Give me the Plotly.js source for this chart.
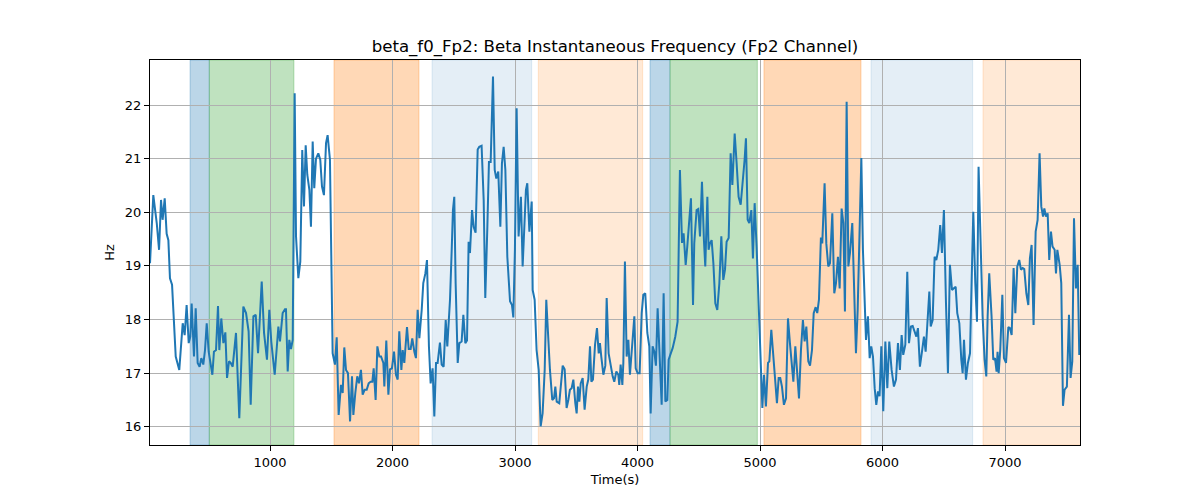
<!DOCTYPE html>
<html>
<head>
<meta charset="utf-8">
<script src="https://cdn.plot.ly/plotly-3.0.1.min.js"></script>
<style>
  html, body { margin: 0; padding: 0; background: #fff; }
  #chart { width: 1200px; height: 500px; }
</style>
</head>
<body>
<div id="chart"></div>
<script>
// time stamps (s) and beta instantaneous frequency (Hz)
const timeSec = [
  20,47,75,94,110,123,140,156,170,183,200,230,259,287,303,319,336,349,360,379,
  393,409,425,439,455,469,483,499,529,542,559,575,586,602,619,635,649,665,679,695,
  722,749,782,804,825,842,864,883,902,932,951,975,994,1010,1038,1068,1081,1103,1122,1130,
  1144,1157,1171,1185,1201,1212,1231,1247,1263,1277,1291,1304,1321,1334,1348,1361,1375,1394,1410,1424,
  1440,1457,1470,1489,
  1511,1530,1544,1560,1579,1593,1606,1620,1636,1653,1669,1680,1696,1712,1726,1742,1756,1772,1789,1805,
  1821,1835,1846,1862,1876,1892,1906,1925,1933,1949,1966,1979,1995,2012,2028,2042,2055,2072,2083,2096,
  2118,2132,2148,2161,2178,2191,2205,2219,2238,2251,2268,2281,2297,2311,2327,2341,2355,2368,2387,2401,
  2417,2434,2447,2469,2483,2493,2504,2515,2532,2545,2564,2578,2594,2608,2621,2632,2649,2662,2678,2695,
  2708,2727,2744,2757,2774,2787,2801,2820,2834,2847,2863,2880,2893,2907,2921,2937,2950,2959,2975,2986,
  2999,3013,3029,
  3048,3062,3078,3089,3100,3117,3136,3144,3160,3176,3193,3209,3225,3242,3255,3272,3285,3304,3318,3329,
  3340,3361,3375,3389,3405,3421,3435,3448,3462,3476,3492,3503,3514,3525,3536,3552,3568,3585,3598,3612,
  3623,3636,3653,3669,3683,3693,3704,3721,3737,3748,3764,3780,3797,3810,3827,3843,3851,3862,3876,3884,
  3897,3911,3925,3938,3957,3974,3985,4001,4017,4034,4047,4063,4080,4096,4107,4123,4137,4150,4164,4183,
  4197,4213,4227,4243,4254,4270,4287,4308,4327,4346,4363,4376,4393,4406,4423,4436,4453,4463,4482,4496,
  4510,4526,4542,4553,4570,4580,4591,
  4605,4619,4635,4651,4668,4684,4700,4714,4727,4744,4760,4774,4793,4809,4825,4842,4858,4874,4885,4899,
  4912,4929,4942,4956,4972,4989,5005,5019,5032,5048,5065,5076,5092,5106,5119,5138,5152,5165,5179,5195,
  5212,5228,5244,5258,5272,5288,5304,5318,5334,5350,5364,5378,5394,5408,5424,5438,5454,5467,5481,5497,
  5508,5527,5541,5557,5571,5590,5606,5620,5636,5650,5666,5680,5693,5707,5721,5734,5753,5767,5783,5797,
  5813,5827,5840,5851,5865,5881,5895,5908,5922,5936,5949,5963,5976,5990,6006,6023,6039,6055,
  6074,6093,6110,6126,6142,6156,6169,6186,6202,6216,6232,6246,6262,6276,6289,6305,6322,6338,6352,6368,
  6382,6393,6409,6425,6439,6455,6471,6485,6501,6518,6534,6550,6567,6580,6597,6610,6627,6643,6654,6665,
  6681,6697,6714,6727,6741,6757,6771,6784,6801,6817,6833,6847,6858,6871,6890,6904,6918,6931,6939,6948,
  6961,6978,6991,7008,7027,7040,7054,7070,7084,7100,7116,7130,7144,7157,7174,7190,7203,7217,7233,7250,
  7266,7282,7296,7310,7321,7334,7348,7361,7375,7388,7405,7416,7427,7446,7459,7473,7486,7505,7522,7535,
  7549,7563,7579,7593,7606
];

const betaHz = [
  19.05,20.32,19.8,19.3,20.23,19.86,20.26,19.6,19.48,18.77,18.65,17.31,17.06,17.93,17.71,18.27,17.56,17.68,18.30,17.31,
  18.21,17.19,17.12,17.28,17.16,17.43,17.93,17.40,16.97,17.40,17.43,18.25,17.43,18.02,17.56,17.76,16.91,17.22,17.19,17.12,
  17.75,16.16,18.24,18.12,17.78,16.41,18.06,18.09,17.37,18.71,17.75,17.25,18.18,17.59,16.97,17.87,17.59,18.12,18.19,18.19,
  17.03,17.62,17.45,17.62,22.22,19.55,18.77,19.08,21.16,20.11,21.25,20.70,20.42,19.73,21.32,20.45,21.0,21.1,20.98,20.48,
  20.32,21.29,21.44,20.98,
  17.37,17.16,17.67,16.22,16.78,16.63,17.48,17.06,17.0,16.10,16.94,16.22,16.63,16.94,16.81,17.06,16.60,16.69,16.69,16.81,
  16.84,16.84,17.09,16.50,17.50,17.31,17.31,17.19,16.75,17.61,16.60,17.07,17.09,17.40,16.97,16.88,17.78,17.06,17.43,17.19,
  17.86,17.45,17.45,17.65,17.40,17.28,18.18,17.65,18.18,18.68,18.86,19.11,17.50,16.81,17.09,16.19,17.19,17.19,17.57,17.16,
  17.12,17.99,17.50,18.37,19.30,20.04,20.29,18.68,17.19,17.56,17.59,18.09,17.56,17.61,19.45,19.24,20.04,19.73,19.62,21.17,
  21.22,21.24,20.23,18.40,19.73,20.94,20.94,22.53,20.79,20.63,20.76,19.73,20.91,21.22,20.79,19.17,18.68,18.34,18.27,18.04,
  19.30,21.94,19.55,
  20.29,18.99,19.92,20.42,20.54,19.64,20.20,18.55,18.37,17.43,17.06,16.01,16.25,17.06,18.37,17.56,17.06,16.50,16.53,16.75,
  16.47,16.44,16.88,17.14,17.07,16.35,16.50,16.69,16.72,16.88,16.44,16.25,16.75,16.47,16.81,16.91,16.32,16.75,16.88,17.50,
  16.84,16.88,17.53,17.84,17.37,17.56,17.31,16.97,17.14,18.40,17.37,17.14,16.94,16.84,17.03,16.97,16.78,17.16,16.78,17.19,
  19.08,17.31,17.62,16.97,17.50,18.06,17.09,17.0,17.0,18.12,18.46,18.49,17.75,17.50,16.25,17.50,17.40,17.14,18.21,16.94,
  16.41,18.49,16.47,16.50,17.25,17.36,17.47,17.68,17.96,20.79,19.43,19.61,19.02,19.36,19.86,20.26,18.27,19.42,20.04,20.06,
  19.55,20.57,19.48,18.99,20.29,19.30,19.42,
  19.48,19.05,18.30,18.18,18.68,19.55,18.74,18.93,19.45,19.52,21.10,20.51,21.47,20.91,20.29,20.14,20.54,20.98,21.38,19.86,
  19.80,20.04,19.14,20.17,19.36,18.18,17.06,16.35,16.97,16.38,17.19,17.22,17.81,17.37,17.12,16.44,16.91,16.91,16.75,16.41,
  16.53,18.02,17.56,17.16,16.84,17.50,17.06,16.53,17.43,17.99,17.59,17.87,17.22,17.14,17.43,18.12,18.23,18.12,18.37,19.53,
  19.42,20.54,19.42,18.99,19.05,19.98,18.49,18.68,19.17,18.58,20.07,19.80,18.15,22.06,18.99,19.24,19.80,18.55,17.37,18.18,
  20.04,21.01,19.30,18.43,17.62,18.06,17.28,17.50,17.31,16.72,16.41,16.66,16.57,17.50,16.29,17.59,16.72,17.59,
  17.06,16.75,16.88,17.56,17.06,17.71,17.34,17.53,18.89,17.56,17.87,17.88,17.75,17.68,17.84,17.12,17.40,17.68,17.40,18.06,
  18.52,17.87,17.99,19.17,19.11,19.30,19.76,19.24,20.04,18.30,17.0,19.02,18.55,18.58,18.61,18.12,17.93,17.25,17.0,17.62,
  16.88,17.19,17.37,18.68,20.01,18.68,17.96,20.85,19.30,18.06,17.25,16.94,18.06,18.86,18.06,17.25,17.28,17.03,17.40,17.0,
  17.43,18.46,17.28,17.19,17.86,17.84,17.71,18.96,18.12,18.99,19.11,18.93,18.96,18.94,18.49,18.27,19.14,19.39,17.90,19.64,
  19.86,21.10,20.11,19.92,20.07,19.92,19.98,19.11,19.64,19.36,19.30,18.86,19.30,19.02,18.68,16.39,16.69,16.75,18.09,16.91,
  17.22,19.89,18.58,19.02,17.34
];

// shaded intervals (s) and which kind each one is
const spanStart = [347, 504, 1522, 2322, 3190, 4102, 4265, 5032, 5906, 6820];
const spanEnd   = [504, 1195, 2216, 3136, 4042, 4265, 4978, 5824, 6736, 7640];
const spanKind  = ['blue', 'green', 'orange', 'lightblue', 'lightorange',
                   'blue', 'green', 'orange', 'lightblue', 'lightorange'];

const kindFill = {
  blue: 'rgba(31,119,180,0.3)',
  green: 'rgba(44,160,44,0.3)',
  orange: 'rgba(255,127,14,0.3)',
  lightblue: 'rgba(31,119,180,0.12)',
  lightorange: 'rgba(255,127,14,0.17)'
};

const xRange = [20, 7612];
const yRange = [15.66, 22.84];

const shapes = spanStart.map((s, i) => ({
  type: 'rect',
  xref: 'x',
  yref: 'paper',
  x0: s,
  x1: spanEnd[i],
  y0: 0,
  y1: 1,
  fillcolor: kindFill[spanKind[i]],
  line: { color: kindFill[spanKind[i]], width: 1 },
  layer: 'below'
}));

const trace = {
  x: timeSec,
  y: betaHz,
  mode: 'lines',
  type: 'scatter',
  line: { color: '#1f77b4', width: 2 },
  hoverinfo: 'x+y'
};

const axisCommon = {
  showline: true,
  mirror: true,
  linecolor: '#000',
  linewidth: 1,
  ticks: 'outside',
  ticklen: 5,
  tickcolor: '#000',
  showgrid: true,
  gridcolor: '#b0b0b0',
  gridwidth: 1,
  zeroline: false,
  tickfont: { family: 'DejaVu Sans', size: 13, color: '#000' }
};

const layout = {
  width: 1200,
  height: 500,
  margin: { l: 150, r: 120, t: 60, b: 55 },
  paper_bgcolor: '#fff',
  plot_bgcolor: '#fff',
  showlegend: false,
  title: {
    text: 'beta_f0_Fp2: Beta Instantaneous Frequency (Fp2 Channel)',
    font: { family: 'DejaVu Sans', size: 16.6, color: '#000' },
    x: 0.5125,
    xanchor: 'center',
    y: 0.908,
    yanchor: 'middle'
  },
  xaxis: Object.assign({}, axisCommon, {
    range: xRange,
    tickvals: [1000, 2000, 3000, 4000, 5000, 6000, 7000],
    title: { text: 'Time(s)', font: { family: 'DejaVu Sans', size: 13, color: '#000' }, standoff: 6 }
  }),
  yaxis: Object.assign({}, axisCommon, {
    range: yRange,
    tickvals: [16, 17, 18, 19, 20, 21, 22],
    title: { text: 'Hz', font: { family: 'DejaVu Sans', size: 13, color: '#000' }, standoff: 7 }
  }),
  shapes: shapes
};

Plotly.newPlot('chart', [trace], layout, { displayModeBar: false, staticPlot: true });
</script>
</body>
</html>
